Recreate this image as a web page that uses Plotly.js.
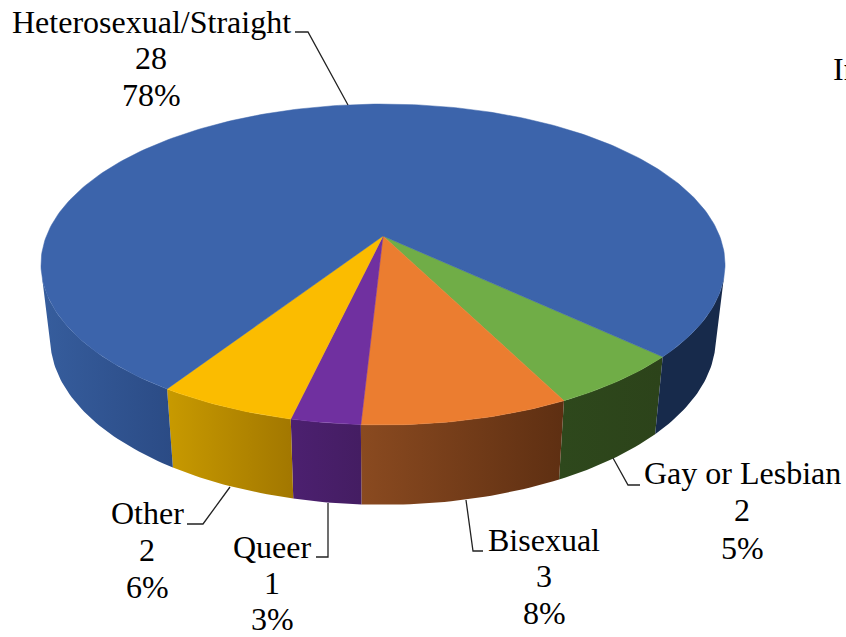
<!DOCTYPE html>
<html>
<head>
<meta charset="utf-8">
<script src="https://cdn.plot.ly/plotly-3.0.1.min.js"></script>
<style>html,body{margin:0;padding:0;background:#fff;overflow:hidden}#c{width:846px;height:637px}</style>
</head>
<body>
<div id="c"></div>
<script>
// Data
const categories = ["Gay or Lesbian", "Bisexual", "Queer", "Other", "Heterosexual/Straight"];
const counts = [2, 3, 1, 2, 28];
const percentLabels = ["5%", "8%", "3%", "6%", "78%"];
const firstSliceStart = 43.1; // degrees clockwise from 3 o'clock

// Style
const topColors = ["#70AD47", "#EB7D30", "#7030A0", "#FBBC00", "#3C64AB"];
const wallFrom = ["#2E481C", "#8A4A20", "#4C2070", "#C89A00"];
const wallTo = ["#2C431A", "#5E2F12", "#441D62", "#A27700"];
const heteroLeftWall = ["#365D9D", "#2B4B85"];
const heteroRightWall = ["#172A4B", "#172A4B"];

// Layout of labels: centre x and y of each of the three lines
const labelX = [742, 544, 272, 147, 151];
const labelY = [[473, 510, 548], [540, 576, 613], [547, 583, 619], [513, 550, 587], [22, 58, 95]];
const leaders = [
  [[640, 485], [628, 485], [613, 458]],
  [[483, 551], [473, 551], [466, 500]],
  [[316, 557], [328, 557], [328, 503]],
  [[187, 524], [203, 524], [230, 487]],
  [[295, 32], [308, 32], [348, 105]]
];

// Projection of the tilted disc onto the page
const CX = 383, k = 0.1776;
const top3d = {a: 336.6, b: 155.4, c: 236};
const bot3d = {a: 327.5, b: 161, c: 309};
const silhouetteLeft = 165, silhouetteRight = 375; // where the side wall's outline leaves the top face
function project(deg, d) {
  const r = deg * Math.PI / 180, u = Math.cos(r), v = Math.sin(r), s = 1 / (1 - k * v);
  return [CX + d.a * u * s, d.c + d.b * v * s];
}
function arc(from, to, d) {
  const pts = [], n = Math.max(2, Math.ceil(Math.abs(to - from) / 1));
  for (let i = 0; i <= n; i++) pts.push(project(from + (to - from) * i / n, d));
  return pts;
}
function wall(from, to, colors) {
  const pts = arc(from, to, top3d).concat(arc(to, from, bot3d));
  pts.push(pts[0]);
  return {
    type: "scatter", mode: "lines", x: pts.map(p => p[0]), y: pts.map(p => p[1]),
    fill: "toself", line: {width: 0}, hoverinfo: "skip", showlegend: false,
    fillgradient: {type: "horizontal", colorscale: [[0, colors[0]], [1, colors[1]]]}
  };
}

const total = counts.reduce((a, b) => a + b, 0);
const walls = [], tops = [];
let start = firstSliceStart;
counts.forEach((count, i) => {
  const end = start + count / total * 360;
  if (i < 4) {
    walls.push(wall(start, end, [wallFrom[i], wallTo[i]]));
  } else {
    walls.push(wall(start, silhouetteLeft, heteroLeftWall));
    walls.push(wall(silhouetteRight, end, heteroRightWall));
  }
  const pts = [[CX, top3d.c]].concat(arc(start, end, top3d));
  pts.push([CX, top3d.c]);
  tops.push({
    type: "scatter", mode: "lines", x: pts.map(p => p[0]), y: pts.map(p => p[1]),
    fill: "toself", fillcolor: topColors[i], line: {width: 0.5, color: topColors[i]},
    name: categories[i], hoverinfo: "name", showlegend: false
  });
  start = end;
});

const font = {family: "Liberation Serif, Times New Roman, serif", size: 32, color: "#000"};
const annotations = [];
categories.forEach((name, i) => {
  [name, String(counts[i]), percentLabels[i]].forEach((t, j) => {
    annotations.push({xref: "x", yref: "y", x: labelX[i], y: labelY[i][j], text: t, showarrow: false,
      xanchor: "center", yanchor: "middle", font: font, borderpad: 0});
  });
});
annotations.push({xref: "x", yref: "y", x: 832, y: 69, text: "In", showarrow: false,
  xanchor: "left", yanchor: "middle", font: font, borderpad: 0});

const shapes = leaders.map(l => ({
  type: "path", xref: "x", yref: "y",
  path: "M" + l.map(p => p[0] + "," + p[1]).join(" L"),
  line: {color: "#222", width: 1.3}
}));

const hidden = {visible: false, fixedrange: true, showgrid: false, zeroline: false};
Plotly.newPlot("c", walls.concat(tops), {
  width: 846, height: 637,
  margin: {l: 0, r: 0, t: 0, b: 0},
  paper_bgcolor: "#fff", plot_bgcolor: "#fff",
  xaxis: Object.assign({range: [0, 846]}, hidden),
  yaxis: Object.assign({range: [637, 0]}, hidden),
  showlegend: false, annotations: annotations, shapes: shapes
}, {displayModeBar: false, staticPlot: true});
</script>
</body>
</html>
